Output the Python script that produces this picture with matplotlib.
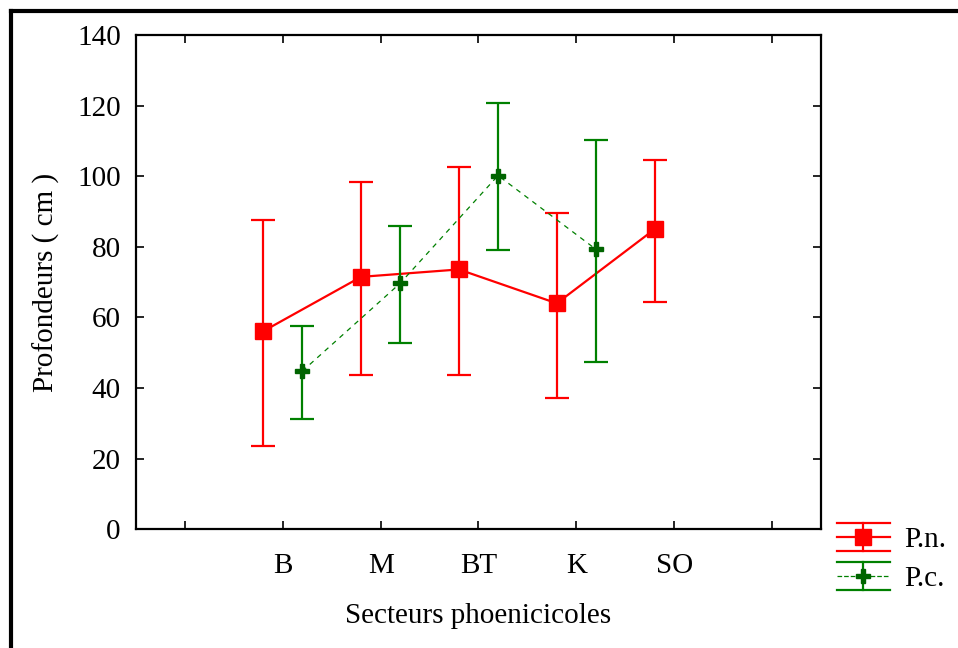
import matplotlib
matplotlib.use("Agg")
import matplotlib.pyplot as plt
import numpy as np
from matplotlib.lines import Line2D
from matplotlib.legend_handler import HandlerBase

plt.rcParams['font.family'] = ['Liberation Serif', 'DejaVu Serif']

categories = ['B', 'M', 'BT', 'K', 'SO']
pn_mean = [56.1, 71.5, 73.6, 64.0, 85.0]
pn_low = [23.5, 43.8, 43.8, 37.1, 64.4]
pn_high = [87.7, 98.4, 102.6, 89.7, 104.7]
pc_mean = [44.8, 69.7, 100.2, 79.3]
pc_low = [31.3, 52.7, 79.1, 47.5]
pc_high = [57.7, 86.0, 120.7, 110.4]
yticks = [0, 20, 40, 60, 80, 100, 120, 140]

RED = '#ff0000'
GREEN = '#008000'
DKGREEN = '#006400'

fig = plt.figure(figsize=(9.58, 6.48), dpi=100)
ax = fig.add_axes([136/958, 1-529.3/648, 685/958, (529.3-35)/648])

xpos = np.arange(1, len(categories) + 1)
pn_mean_a = np.array(pn_mean)
pc_mean_a = np.array(pc_mean)

ax.errorbar(xpos - 0.2, pn_mean_a,
            yerr=[pn_mean_a - np.array(pn_low), np.array(pn_high) - pn_mean_a],
            color=RED, ecolor=RED, lw=1.6, elinewidth=1.6, capsize=8.5, capthick=1.6,
            marker='s', markersize=11, markerfacecolor=RED, markeredgecolor=RED, zorder=3)
ax.errorbar(xpos[:len(pc_mean)] + 0.2, pc_mean_a,
            yerr=[pc_mean_a - np.array(pc_low), np.array(pc_high) - pc_mean_a],
            color=GREEN, ecolor=GREEN, lw=0.9, ls=(0, (4, 4)), elinewidth=1.6, capsize=8.5,
            capthick=1.6, marker='P', markersize=9.5, markerfacecolor=DKGREEN,
            markeredgecolor=DKGREEN, zorder=4)

ax.set_xlim(-0.5, len(categories) + 1.5)
ax.set_ylim(0, 140)
ax.set_xticks(np.arange(0, len(categories) + 2))
ax.set_xticklabels([''] + categories + [''])
ax.set_yticks(yticks)
ax.tick_params(direction='in', length=6, width=1.2, top=True, right=True,
               labelsize=21)
ax.tick_params(axis='x', pad=17)
ax.tick_params(axis='y', pad=11)
for s in ax.spines.values():
    s.set_linewidth(1.6)
ax.set_xlabel('Secteurs phoenicicoles', fontsize=21, labelpad=17)
ax.set_ylabel('Profondeurs ( cm )', fontsize=21, labelpad=12)


class ErrHandler(HandlerBase):
    def create_artists(self, legend, orig_handle, xdescent, ydescent, width,
                       height, fontsize, trans):
        x0 = -xdescent
        x1 = width - xdescent
        y0 = -ydescent
        y1 = height - ydescent
        yc = (y0 + y1) / 2
        xc = (x0 + x1) / 2
        ec = orig_handle._ecolor
        arts = []
        arts.append(Line2D([x0, x1], [y1, y1], color=ec, lw=1.6, transform=trans))
        arts.append(Line2D([x0, x1], [y0, y0], color=ec, lw=1.6, transform=trans))
        arts.append(Line2D([xc, xc], [y0, y1], color=ec, lw=1.6, transform=trans))
        arts.append(Line2D([x0, x1], [yc, yc], color=orig_handle.get_color(),
                           lw=orig_handle.get_linewidth(),
                           ls=orig_handle.get_linestyle(), transform=trans))
        arts.append(Line2D([xc], [yc], ls='none', marker=orig_handle.get_marker(),
                           markersize=orig_handle.get_markersize(),
                           markerfacecolor=orig_handle.get_markerfacecolor(),
                           markeredgecolor=orig_handle.get_markeredgecolor(),
                           transform=trans))
        return arts


h1 = Line2D([], [], color=RED, lw=1.6, marker='s', markersize=11,
            markerfacecolor=RED, markeredgecolor=RED)
h1._ecolor = RED
h2 = Line2D([], [], color=GREEN, lw=0.9, ls=(0, (4, 4)), marker='P', markersize=9.5,
            markerfacecolor=DKGREEN, markeredgecolor=DKGREEN)
h2._ecolor = GREEN
hand = ErrHandler()
fig.legend([h1, h2], ['P.n.', 'P.c.'], handler_map={h1: hand, h2: hand},
           loc='upper left', bbox_to_anchor=(837/958, 1-523/648), frameon=False,
           fontsize=21, handlelength=1.8, handleheight=1.08, handletextpad=0.5,
           labelspacing=0.33, borderpad=0, borderaxespad=0)

fig.add_artist(Line2D([11/958, 11/958], [0, 1-11/648], transform=fig.transFigure,
                      color='black', lw=3))
fig.add_artist(Line2D([11/958, 1], [1-11/648, 1-11/648], transform=fig.transFigure,
                      color='black', lw=3))

fig.savefig('out.png', dpi=100)
